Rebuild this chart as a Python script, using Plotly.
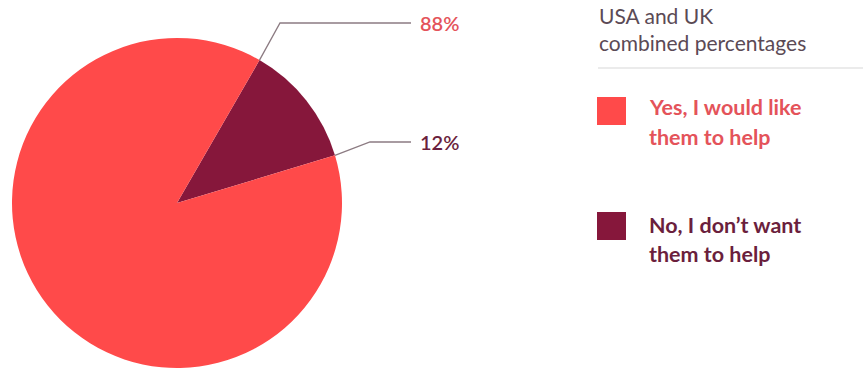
import math
import plotly.graph_objects as go

W, H = 863, 369

labels = ["No, I don\u2019t want them to help", "Yes, I would like them to help"]
legend_lines = [["No, I don\u2019t want", "them to help"], ["Yes, I would like", "them to help"]]
values = [12, 88]
pct_labels = ["12%", "88%"]
colors = ["#86173b", "#ff4a4a"]
text_colors = ["#6b1f3d", "#e4535a"]
legend_title = ["USA and UK", "combined percentages"]
rotation = 30

# pie geometry in pixels
cx, cy, r = 177, 203, 165

def px(x):
    return x / W

def py(y):
    return 1 - y / H

fig = go.Figure()
fig.add_trace(go.Pie(
    labels=labels, values=values, sort=False, direction="clockwise",
    rotation=rotation, marker=dict(colors=colors, line=dict(width=0)),
    textinfo="none", hoverinfo="label+percent", showlegend=False,
    domain=dict(x=[px(cx - r), px(cx + r)], y=[py(cy + r), py(cy - r)]),
))

shapes = []
annotations = []

# leader lines start at slice boundaries (computed from data)
total = sum(values)
a_start = math.radians(rotation)
a_end = math.radians(rotation + 360 * values[0] / total)
boundaries = [a_end, a_start]  # 12% label from end boundary, 88% from start
elbows = [(370, 142), (280, 23)]
line_end_x = 411
fs_p = 20
for i, ang in enumerate(boundaries):
    sx = cx + r * math.sin(ang)
    sy = cy - r * math.cos(ang)
    ex, ey = elbows[i]
    shapes.append(dict(type="path", xref="paper", yref="paper",
                       path=f"M {px(sx)} {py(sy)} L {px(ex)} {py(ey)} L {px(line_end_x)} {py(ey)}",
                       line=dict(color="#8c7b82", width=1.3)))
    annotations.append(dict(x=px(418), y=py(ey), xref="paper", yref="paper",
                            text=pct_labels[i], showarrow=False, xanchor="left", yanchor="middle",
                            font=dict(family="Lato", size=fs_p, color=text_colors[i], weight=600)))

# legend title
fs_t = 21
for baseline, t in zip([23, 50], legend_title):
    annotations.append(dict(x=px(597), y=py(baseline - 0.35 * fs_t), xref="paper", yref="paper",
                            text=t, showarrow=False, xanchor="left", yanchor="middle",
                            font=dict(family="Lato", size=fs_t, color="#5b4a55")))
shapes.append(dict(type="line", xref="paper", yref="paper", x0=px(598), x1=1, y0=py(68), y1=py(68),
                   line=dict(color="#e4e4e4", width=1.5)))

# legend items: yes first (top), then no
fs_l = 21.5
items = [(1, 97, [115, 145]), (0, 212, [233, 262])]
for idx, top, baselines in items:
    shapes.append(dict(type="rect", xref="paper", yref="paper",
                       x0=px(597), x1=px(626), y0=py(top), y1=py(top + 28),
                       fillcolor=colors[idx], line=dict(width=0)))
    for b, t in zip(baselines, legend_lines[idx]):
        annotations.append(dict(x=px(647), y=py(b - 0.35 * fs_l), xref="paper", yref="paper",
                                text=f"<b>{t}</b>", showarrow=False, xanchor="left", yanchor="middle",
                                font=dict(family="Lato", size=fs_l, color=text_colors[idx])))

fig.update_layout(width=W, height=H, margin=dict(l=0, r=0, t=0, b=0),
                  paper_bgcolor="white", plot_bgcolor="white",
                  shapes=shapes, annotations=annotations)
fig.write_html("out.html")
